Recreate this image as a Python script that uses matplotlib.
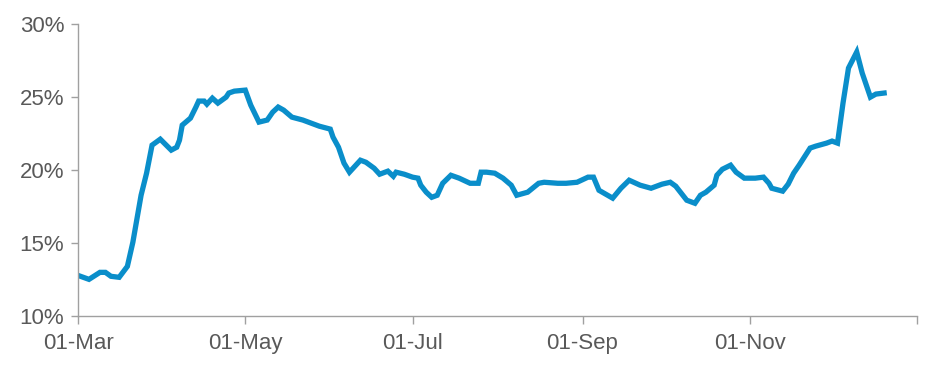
import matplotlib
matplotlib.use("Agg")
import matplotlib.pyplot as plt
import pandas as pd

dates = ["2020-03-01","2020-03-05","2020-03-09","2020-03-11","2020-03-13","2020-03-16","2020-03-19",
         "2020-03-21","2020-03-24","2020-03-26","2020-03-28","2020-03-31","2020-04-04","2020-04-06",
         "2020-04-07","2020-04-08","2020-04-11","2020-04-13","2020-04-14","2020-04-16","2020-04-17",
         "2020-04-19","2020-04-21","2020-04-24","2020-04-25","2020-04-27","2020-05-01","2020-05-03",
         "2020-05-06","2020-05-09","2020-05-11","2020-05-13","2020-05-15","2020-05-18","2020-05-22",
         "2020-05-25","2020-05-28","2020-06-01","2020-06-02","2020-06-04","2020-06-06","2020-06-08",
         "2020-06-12","2020-06-14","2020-06-17","2020-06-19","2020-06-22","2020-06-24","2020-06-25",
         "2020-06-28","2020-07-01","2020-07-03","2020-07-04","2020-07-06","2020-07-08","2020-07-10",
         "2020-07-12","2020-07-15","2020-07-18","2020-07-22","2020-07-25","2020-07-26","2020-07-28",
         "2020-07-31","2020-08-03","2020-08-06","2020-08-08","2020-08-12","2020-08-16","2020-08-18",
         "2020-08-23","2020-08-26","2020-08-30","2020-09-03","2020-09-05","2020-09-07","2020-09-12",
         "2020-09-15","2020-09-18","2020-09-22","2020-09-26","2020-09-30","2020-10-03","2020-10-05",
         "2020-10-07","2020-10-09","2020-10-12","2020-10-14","2020-10-16","2020-10-19","2020-10-20",
         "2020-10-22","2020-10-25","2020-10-27","2020-10-30","2020-11-03","2020-11-06","2020-11-08",
         "2020-11-09","2020-11-13","2020-11-15","2020-11-17","2020-11-19","2020-11-23","2020-11-25",
         "2020-11-29","2020-12-01","2020-12-03","2020-12-05","2020-12-07","2020-12-10","2020-12-12",
         "2020-12-15","2020-12-17","2020-12-20"]
values = [12.78,12.51,12.99,12.99,12.72,12.65,13.40,
          15.05,18.27,19.78,21.70,22.11,21.36,21.56,
          22.04,23.07,23.55,24.31,24.72,24.72,24.51,
          24.92,24.58,24.99,25.27,25.40,25.47,24.44,
          23.28,23.42,23.96,24.31,24.10,23.62,23.42,
          23.21,23.00,22.80,22.25,21.56,20.47,19.85,
          20.67,20.53,20.12,19.71,19.92,19.57,19.85,
          19.71,19.51,19.44,18.96,18.48,18.13,18.27,
          19.09,19.64,19.44,19.09,19.09,19.85,19.85,
          19.78,19.44,18.96,18.27,18.48,19.09,19.16,
          19.09,19.09,19.16,19.51,19.51,18.61,18.07,
          18.75,19.30,18.96,18.75,19.03,19.16,18.89,
          18.41,17.93,17.72,18.27,18.48,18.96,19.64,
          20.05,20.33,19.85,19.44,19.44,19.51,19.09,
          18.75,18.55,19.03,19.78,20.33,21.50,21.63,
          21.84,21.98,21.84,24.58,26.98,28.08,26.64,
          24.99,25.20,25.27]

x_ticks = ["2020-03-01","2020-05-01","2020-07-01","2020-09-01","2020-11-01","2021-01-01"]
x_tick_labels = ["01-Mar","01-May","01-Jul","01-Sep","01-Nov",""]
y_ticks = [10, 15, 20, 25, 30]
y_tick_labels = ["10%","15%","20%","25%","30%"]

plt.rcParams['font.family'] = ['Liberation Sans', 'DejaVu Sans']

fig = plt.figure(figsize=(9.31, 3.73), dpi=100)
ax = fig.add_axes([0.0838, 0.1528, 0.985 - 0.0838, 0.9357 - 0.1528])

ax.plot(pd.to_datetime(dates), values, color="#0A8ECA", lw=3.8, solid_joinstyle="miter")

ax.set_xlim(pd.Timestamp(x_ticks[0]), pd.Timestamp(x_ticks[-1]))
ax.set_ylim(10, 30)
ax.set_xticks(pd.to_datetime(x_ticks))
ax.set_xticklabels(x_tick_labels)
ax.set_yticks(y_ticks)
ax.set_yticklabels(y_tick_labels)

axis_col = "#A0A0A0"
text_col = "#595959"
for s in ["top", "right"]:
    ax.spines[s].set_visible(False)
for s in ["left", "bottom"]:
    ax.spines[s].set_color(axis_col)
    ax.spines[s].set_linewidth(1.0)
ax.tick_params(axis="x", direction="out", length=6, width=1, color=axis_col,
               labelsize=16, labelcolor=text_col, pad=6)
ax.tick_params(axis="y", direction="out", length=5, width=1, color=axis_col,
               labelsize=16, labelcolor=text_col, pad=5)

fig.savefig("out.png", dpi=100)
